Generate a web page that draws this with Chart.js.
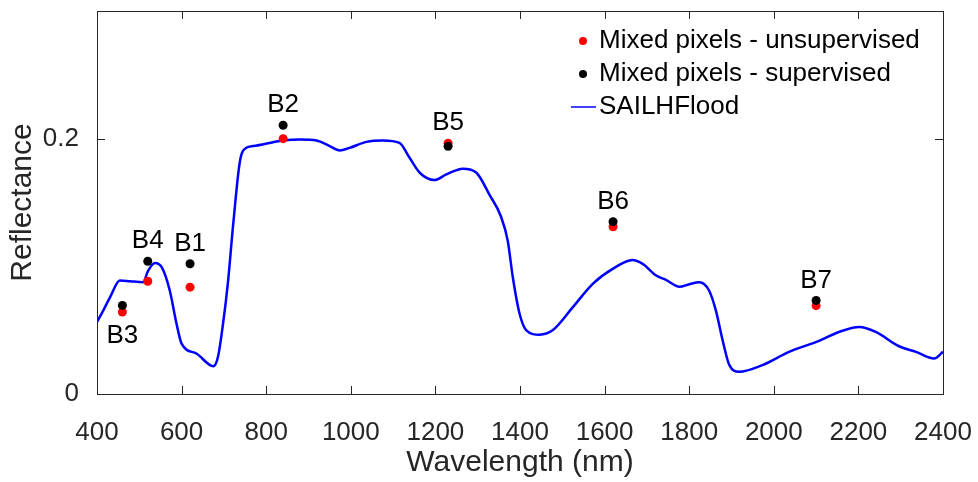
<!DOCTYPE html>
<html>
<head>
<meta charset="utf-8">
<script src="https://cdn.jsdelivr.net/npm/chart.js@4/dist/chart.umd.min.js"></script>
<style>
html, body { margin: 0; background: #fff; }
#wrap { width: 978px; height: 482px; }
</style>
</head>
<body>
<div id="wrap"><canvas id="spectrum"></canvas></div>
<script>
// simulated spectrum
var wavelengths = [400, 415, 431, 454, 478, 509, 521, 537, 553, 572, 588, 600, 635, 675, 686, 698, 710, 722,
    738, 753, 769, 840, 879, 919, 950, 974, 997, 1037, 1076, 1115, 1139, 1163, 1198, 1226, 1265, 1297,
    1328, 1355, 1371, 1383, 1399, 1415, 1446, 1477, 1525, 1572, 1619, 1666, 1690, 1722, 1745, 1777,
    1800, 1824, 1847, 1863, 1879, 1895, 1918, 1973, 2036, 2107, 2154, 2202, 2241, 2296, 2336, 2379, 2400];
var reflectance = [0.0564, 0.0655, 0.0759, 0.0889, 0.0883, 0.0876, 0.0967, 0.1027, 0.0993, 0.0811, 0.0551,
    0.0395, 0.0317, 0.0218, 0.0291, 0.0551, 0.0889, 0.133, 0.1825, 0.1928, 0.1942, 0.1986, 0.1994, 0.1986,
    0.1942, 0.1908, 0.1928, 0.1975, 0.1986, 0.1967, 0.185, 0.1733, 0.1676, 0.172, 0.1765, 0.1733, 0.156,
    0.139, 0.1201, 0.0915, 0.0629, 0.0499, 0.0465, 0.0499, 0.0681, 0.0863, 0.098, 0.105, 0.1019, 0.0928,
    0.0894, 0.084, 0.086, 0.0876, 0.0811, 0.0655, 0.0421, 0.0226, 0.0174, 0.0226, 0.033, 0.0416, 0.0486,
    0.0525, 0.0486, 0.0374, 0.033, 0.0278, 0.033];

// band samples
var bandNames = ["B3", "B4", "B1", "B2", "B5", "B6", "B7"];
var bandWavelengths = [460, 520, 620, 840, 1230, 1620, 2100];
var unsupervised = [0.0642, 0.0883, 0.0837, 0.2, 0.1965, 0.131, 0.0692];
var supervised = [0.0694, 0.104, 0.102, 0.2105, 0.194, 0.135, 0.0733];

var xTicks = [400, 600, 800, 1000, 1200, 1400, 1600, 1800, 2000, 2200, 2400];
var yTicks = [0, 0.2];

var FONT = "'Liberation Sans', Arial, Helvetica, sans-serif";
var AXIS = "#262626";

function points(xs, ys) {
    return xs.map(function (x, i) { return { x: x, y: ys[i] }; });
}

// MATLAB-ish box with inward ticks, band labels, legend inside the axes
var decorations = {
    id: "decorations",
    afterDraw: function (chart) {
        var ctx = chart.ctx;
        var a = chart.chartArea;
        var xs = chart.scales.x;
        var ys = chart.scales.y;
        ctx.save();
        ctx.strokeStyle = AXIS;
        ctx.lineWidth = 1;
        ctx.strokeRect(Math.round(a.left) + 0.5, Math.round(a.top) + 0.5,
            Math.round(a.right - a.left), Math.round(a.bottom - a.top));
        ctx.beginPath();
        xs.ticks.forEach(function (t) {
            var px = Math.round(xs.getPixelForValue(t.value)) + 0.5;
            ctx.moveTo(px, a.bottom); ctx.lineTo(px, a.bottom - 8);
            ctx.moveTo(px, a.top); ctx.lineTo(px, a.top + 8);
        });
        ys.ticks.forEach(function (t) {
            var py = Math.round(ys.getPixelForValue(t.value)) + 0.5;
            ctx.moveTo(a.left, py); ctx.lineTo(a.left + 8, py);
            ctx.moveTo(a.right, py); ctx.lineTo(a.right - 8, py);
        });
        ctx.stroke();

        // band names
        ctx.fillStyle = "#000";
        ctx.font = "26px " + FONT;
        ctx.textAlign = "center";
        ctx.textBaseline = "middle";
        bandNames.forEach(function (name, i) {
            var px = xs.getPixelForValue(bandWavelengths[i]);
            var py;
            if (name === "B3") {
                py = ys.getPixelForValue(Math.min(unsupervised[i], supervised[i])) + 24;
            } else {
                py = ys.getPixelForValue(Math.max(unsupervised[i], supervised[i])) - 20;
            }
            ctx.fillText(name, px, py);
        });

        // legend
        var ds = chart.data.datasets;
        var rows = [ds[1], ds[2], ds[0]];
        var lx = 583, ly = 41, step = 33;
        ctx.font = "26px " + FONT;
        ctx.textAlign = "left";
        rows.forEach(function (d, i) {
            var y = ly + i * step;
            if (d.type === "line") {
                ctx.strokeStyle = d.borderColor;
                ctx.lineWidth = 1.5;
                ctx.beginPath();
                ctx.moveTo(lx - 12, y); ctx.lineTo(lx + 13, y);
                ctx.stroke();
            } else {
                ctx.fillStyle = d.backgroundColor;
                ctx.beginPath();
                ctx.arc(lx, y, 4, 0, Math.PI * 2);
                ctx.fill();
            }
            ctx.fillStyle = "#000";
            ctx.fillText(d.label, lx + 16, y);
        });
        ctx.restore();
    }
};

new Chart(document.getElementById("spectrum"), {
    type: "scatter",
    data: {
        datasets: [
            {
                type: "line",
                label: "SAILHFlood",
                data: points(wavelengths, reflectance),
                borderColor: "#0000ff",
                borderWidth: 2.5,
                pointRadius: 0,
                fill: false,
                cubicInterpolationMode: "monotone",
                order: 3,
            },
            {
                label: "Mixed pixels - unsupervised",
                data: points(bandWavelengths, unsupervised),
                backgroundColor: "#ff0000",
                borderWidth: 0,
                pointRadius: 4.5,
                order: 2,
            },
            {
                label: "Mixed pixels - supervised",
                data: points(bandWavelengths, supervised),
                backgroundColor: "#000000",
                borderWidth: 0,
                pointRadius: 4.5,
                order: 1,
            },
        ],
    },
    options: {
        responsive: true,
        maintainAspectRatio: false,
        animation: false,
        layout: { padding: { top: 11, right: 35, left: 0, bottom: 0 } },
        scales: {
            x: {
                type: "linear",
                min: 400,
                max: 2400,
                afterBuildTicks: function (s) {
                    s.ticks = xTicks.map(function (v) { return { value: v }; });
                },
                afterFit: function (s) {
                    s.height = 88;
                    s.paddingLeft = 0;
                    s.paddingRight = 0;
                },
                grid: { display: false },
                border: { display: false },
                ticks: {
                    color: AXIS,
                    font: { family: FONT, size: 26 },
                    padding: 15,
                    maxRotation: 0,
                    autoSkip: false,
                    callback: function (value) { return String(value); },
                },
                title: {
                    display: true,
                    text: "Wavelength (nm)",
                    color: AXIS,
                    font: { family: FONT, size: 30 },
                    padding: { top: 0, bottom: 1 },
                },
            },
            y: {
                min: 0,
                max: 0.3,
                afterBuildTicks: function (s) {
                    s.ticks = yTicks.map(function (v) { return { value: v }; });
                },
                afterFit: function (s) {
                    s.width = 97;
                    s.paddingTop = 0;
                    s.paddingBottom = 0;
                },
                grid: { display: false },
                border: { display: false },
                ticks: {
                    color: AXIS,
                    font: { family: FONT, size: 26 },
                    padding: 10,
                    callback: function (value) { return String(value); },
                },
                title: {
                    display: true,
                    text: "Reflectance",
                    color: AXIS,
                    font: { family: FONT, size: 30 },
                    padding: { top: 5, bottom: 0 },
                },
            },
        },
        plugins: {
            legend: { display: false },
            tooltip: { enabled: false },
        },
    },
    plugins: [decorations],
});
</script>
</body>
</html>
